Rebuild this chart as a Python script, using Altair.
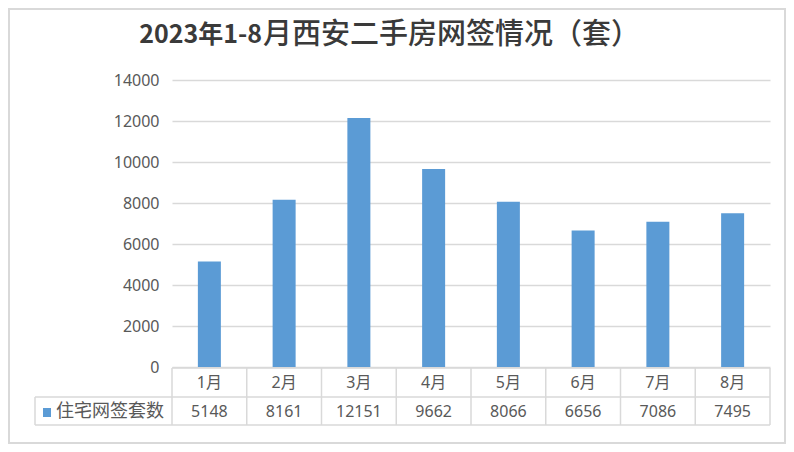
import altair as alt
import pandas as pd

months = ["1月", "2月", "3月", "4月", "5月", "6月", "7月", "8月"]
values = [5148, 8161, 12151, 9662, 8066, 6656, 7086, 7495]
y_ticks = [0, 2000, 4000, 6000, 8000, 10000, 12000, 14000]
series_name = "住宅网签套数"
title_part1 = "2023年1-8"
title_part2 = "月西安二手房网签情况（套）"

CJK = "Noto Sans CJK SC"
LAT = "Noto Sans, Noto Sans CJK SC"
TXT = "#595959"
GRID = "#d9d9d9"
BAR = "#5b9bd5"

W, H = 598, 287

df = pd.DataFrame({"month": months, "value": values})
one = pd.DataFrame({"name": [series_name], "t1": [title_part1], "t2": [title_part2]})

xscale = alt.Scale(domain=months, paddingInner=0, paddingOuter=0)
x_enc = alt.X("month:N", sort=months, scale=xscale, axis=None)
yscale = alt.Scale(domain=[0, 14000], nice=False)

base = alt.Chart(df)

bars = base.mark_bar(size=23, color=BAR).encode(
    x=x_enc,
    y=alt.Y("value:Q", scale=yscale, axis=alt.Axis(
        values=y_ticks, format="d", grid=True, gridColor=GRID, gridWidth=1.5,
        domain=False, ticks=False, labelFontSize=16, labelColor=TXT,
        labelFont=LAT, labelPadding=13, title=None)),
)

month_text = base.mark_text(fontSize=16, color=TXT, font=LAT, baseline="middle").encode(
    x=x_enc, y=alt.value(303), text="month:N")
value_text = base.mark_text(fontSize=16, color=TXT, font=LAT, baseline="middle").encode(
    x=x_enc, y=alt.value(332), text=alt.Text("value:Q", format="d"))

vlines = base.mark_rule(color=GRID, strokeWidth=1.5).encode(
    x=alt.X("month:N", sort=months, scale=xscale, bandPosition=0, axis=None),
    y=alt.value(288), y2=alt.value(345))

ob = alt.Chart(one)
line_style = dict(color=GRID, strokeWidth=1.5)
right_line = ob.mark_rule(**line_style).encode(x=alt.value(W), y=alt.value(288), y2=alt.value(345))
left_line = ob.mark_rule(**line_style).encode(x=alt.value(-137), y=alt.value(317), y2=alt.value(345))
top_line = ob.mark_rule(**line_style).encode(x=alt.value(0), x2=alt.value(W), y=alt.value(288))
mid_line = ob.mark_rule(**line_style).encode(x=alt.value(-137), x2=alt.value(W), y=alt.value(317))
bot_line = ob.mark_rule(**line_style).encode(x=alt.value(-137), x2=alt.value(W), y=alt.value(345))

legend_sq = ob.mark_rect(color=BAR).encode(
    x=alt.value(-129), x2=alt.value(-121), y=alt.value(328), y2=alt.value(337))
legend_txt = ob.mark_text(fontSize=18, color=TXT, font=CJK, align="left", baseline="middle").encode(
    x=alt.value(-116), y=alt.value(332), text="name:N")

title1 = ob.mark_text(fontSize=25, fontWeight="bold", color="#3a3a3a", font=CJK,
                      align="right", baseline="middle").encode(
    x=alt.value(90), y=alt.value(-45), text="t1:N")
title2 = ob.mark_text(fontSize=29, fontWeight=500, color="#3a3a3a", font=CJK,
                      align="left", baseline="middle").encode(
    x=alt.value(91), y=alt.value(-45), text="t2:N")

frame = ob.mark_rect(fill=None, stroke=GRID, strokeWidth=2).encode(
    x=alt.value(-163), x2=alt.value(613), y=alt.value(-71), y2=alt.value(363))

chart = alt.layer(
    frame, bars, vlines, right_line, left_line, top_line, mid_line, bot_line,
    month_text, value_text, legend_sq, legend_txt, title1, title2
).properties(
    width=W, height=H,
    padding={"left": 164, "top": 72, "right": 16, "bottom": 77},
    autosize=alt.AutoSizeParams(type="none"),
).configure_view(stroke=None)

chart.save("out.html", embed_options={"renderer": "svg", "actions": False})
